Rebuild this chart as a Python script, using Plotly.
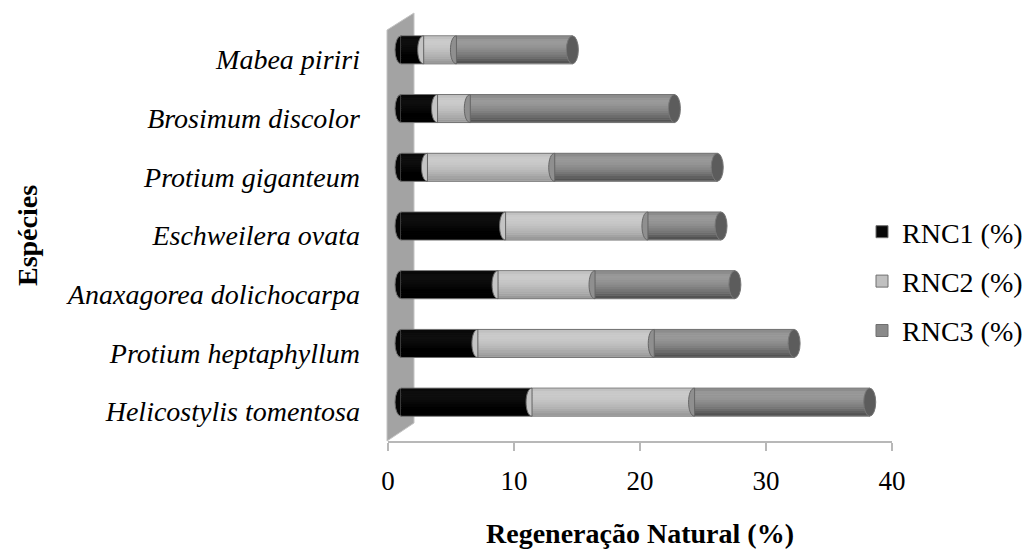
import plotly.graph_objects as go

# ---- data -------------------------------------------------------------
species = [
    "Helicostylis tomentosa",
    "Protium heptaphyllum",
    "Anaxagorea dolichocarpa",
    "Eschweilera ovata",
    "Protium giganteum",
    "Brosimum discolor",
    "Mabea piriri",
]
rnc1 = [10.4, 6.1, 7.7, 8.3, 2.1, 2.9, 1.8]
rnc2 = [12.9, 14.0, 7.7, 11.3, 10.1, 2.6, 2.6]
rnc3 = [13.9, 11.1, 11.1, 5.8, 12.9, 16.2, 9.2]
series_names = ["RNC1 (%)", "RNC2 (%)", "RNC3 (%)"]
x_ticks = [0, 10, 20, 30, 40]

# ---- geometry / style ---------------------------------------------------
W, H = 1032, 550
ML, MR, MT, MB = 388, 140, 30, 109
plot_w = W - ML - MR
plot_h = H - MT - MB
x_min, x_max = 0, 40
n_cat = len(species)
px_x = plot_w / (x_max - x_min)          # pixels per value unit
px_y = plot_h / n_cat                     # pixels per category
depth_dx, depth_dy = 13, 9.5              # pseudo-3D shift of the bars
bar_w = 28 / px_y                         # bar thickness (category units)
cap_rx = 6 / px_x                         # ellipse half-width of cylinder caps

FONT = "'Liberation Serif', 'Times New Roman', serif"
FS = 28

base_levels = [8, 192, 138]               # grey level of each series
amps = [40, 70, 100]                      # shading amplitude for each series
# vertical shading profile of a cylinder, bottom -> top
profile = [-0.55, -0.42, -0.30, -0.20, -0.11, -0.03, 0.04, 0.10, 0.14, 0.16, 0.13, 0.02]


def grey(v):
    v = int(max(0, min(255, round(v))))
    return f"#{v:02x}{v:02x}{v:02x}"


series = [rnc1, rnc2, rnc3]
positions = list(range(n_cat))
starts = []
acc = [0.0] * n_cat
for vals in series:
    starts.append(list(acc))
    acc = [a + v for a, v in zip(acc, vals)]
totals = acc

fig = go.Figure()

# empty trace that anchors the visible value / category axes
fig.add_trace(go.Scatter(x=[], y=[], xaxis="x", yaxis="y", showlegend=False, hoverinfo="skip"))

n_str = len(profile)
inner = bar_w - 1.5 / px_y
str_w = inner / n_str
for s, vals in enumerate(series):
    base_col = grey(base_levels[s])
    fig.add_trace(go.Bar(
        y=positions, x=vals, base=starts[s], orientation="h",
        width=bar_w, name=series_names[s], legendgroup=series_names[s],
        marker=dict(color=base_col, line=dict(color="#6f6f6f", width=1)),
        xaxis="x2", yaxis="y2", hoverinfo="skip",
    ))
    for k, p in enumerate(profile):
        fig.add_trace(go.Bar(
            y=positions, x=vals, base=starts[s], orientation="h",
            width=str_w * 1.05, offset=-inner / 2 + k * str_w,
            marker=dict(color=grey(base_levels[s] + p * amps[s]), line=dict(width=0)),
            xaxis="x2", yaxis="y2", showlegend=False, hoverinfo="skip",
            legendgroup=series_names[s],
        ))

shapes = []


def to_paper_x(px):
    return (px - ML) / plot_w


def to_paper_y(py):
    return (MT + plot_h - py) / plot_h


# back wall of the pseudo-3D plot
wx0, wx1 = ML - 1, ML + 2 * depth_dx
wall = [(wx0, MT), (wx1, MT - 2 * depth_dy + 2), (wx1, MT + plot_h - 2 * depth_dy + 1), (wx0, MT + plot_h)]
path = "M " + " L ".join(f"{to_paper_x(x):.5f},{to_paper_y(y):.5f}" for x, y in wall) + " Z"
shapes.append(dict(type="path", xref="paper", yref="paper", path=path,
                   fillcolor="#a3a3a3", line=dict(color="#c4c4c4", width=1), layer="below"))

# rounded left ends
for i in positions:
    shapes.append(dict(type="circle", xref="x2", yref="y2",
                       x0=-cap_rx, x1=cap_rx, y0=i - bar_w / 2, y1=i + bar_w / 2,
                       fillcolor="#050505", line=dict(color="#6f6f6f", width=1), layer="below"))

# curved joints between stacked segments
for s in (1, 2):
    for i in positions:
        b = starts[s][i]
        t, bt = i + bar_w / 2, i - bar_w / 2
        c = b - 1.333 * cap_rx
        shapes.append(dict(type="path", xref="x2", yref="y2",
                           path=f"M {b},{t} C {c},{t} {c},{bt} {b},{bt} Z",
                           fillcolor=grey(base_levels[s] + 0.05 * amps[s]),
                           line=dict(color="#666666", width=1), layer="above"))

# visible end caps
for i in positions:
    shapes.append(dict(type="circle", xref="x2", yref="y2",
                       x0=totals[i] - cap_rx, x1=totals[i] + cap_rx,
                       y0=i - bar_w / 2, y1=i + bar_w / 2,
                       fillcolor="#5c5c5c", line=dict(color="#777777", width=1), layer="above"))

fig.update_layout(
    width=W, height=H,
    margin=dict(l=ML, r=MR, t=MT, b=MB, autoexpand=False),
    paper_bgcolor="white", plot_bgcolor="rgba(0,0,0,0)",
    barmode="overlay",
    font=dict(family=FONT, size=FS, color="black"),
    shapes=shapes,
    showlegend=True,
    legend=dict(
        x=to_paper_x(862), y=to_paper_y(207), xanchor="left", yanchor="top",
        traceorder="grouped", tracegroupgap=10,
        font=dict(family=FONT, size=FS, color="black"),
        bgcolor="rgba(0,0,0,0)",
    ),
    xaxis=dict(
        range=[x_min, x_max], tickvals=x_ticks, ticktext=[str(t) for t in x_ticks],
        showline=True, linecolor="#b8b8b8", linewidth=1.5,
        ticks="outside", ticklen=8, tickcolor="#b8b8b8", tickwidth=1.5,
        showgrid=False, zeroline=False, ticklabelstandoff=7,
        tickfont=dict(family=FONT, size=27, color="black"),
        title=dict(text="Regeneração Natural (%)", standoff=28,
                   font=dict(family=FONT, size=FS, color="black", weight="bold")),
        automargin=False, fixedrange=True,
    ),
    yaxis=dict(
        range=[-0.5, n_cat - 0.5], tickvals=positions, ticktext=species,
        showline=False, ticks="", showgrid=False, zeroline=False,
        ticklabelstandoff=27,
        tickfont=dict(family=FONT, size=FS, color="black", style="italic"),
        title=dict(text="Espécies", standoff=20,
                   font=dict(family=FONT, size=FS, color="black", weight="bold")),
        automargin=False, fixedrange=True,
    ),
    xaxis2=dict(
        overlaying="x", range=[x_min - depth_dx / px_x, x_max - depth_dx / px_x],
        visible=False, fixedrange=True,
    ),
    yaxis2=dict(
        overlaying="y", range=[-0.5 - depth_dy / px_y, n_cat - 0.5 - depth_dy / px_y],
        visible=False, fixedrange=True,
    ),
)

fig.write_html("out.html")
